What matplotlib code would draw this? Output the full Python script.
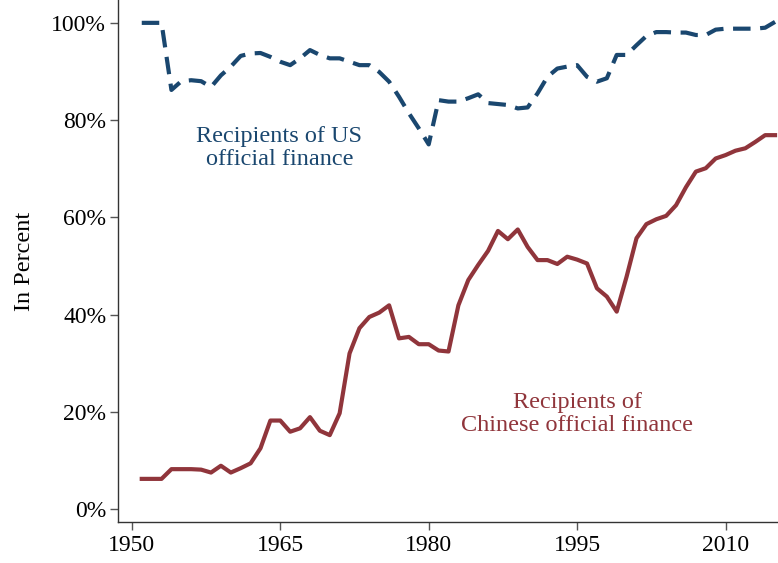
import matplotlib
matplotlib.use("Agg")
import matplotlib.pyplot as plt
from matplotlib.ticker import FuncFormatter

years = list(range(1951, 2016))
us_share = [100, 100, 100, 86.2, 88.0, 88.2, 88.0, 86.8, 89.2, 91.0,
            93.2, 93.7, 93.8, 93.0, 92.0, 91.3, 92.7, 94.4, 93.4, 92.7,
            92.7, 92.0, 91.3, 91.3, 89.9, 87.9, 84.8, 81.4, 78.3, 75.0,
            84.1, 83.8, 83.8, 84.5, 85.3, 83.5, 83.3, 83.1, 82.4, 82.6,
            85.5, 88.9, 90.6, 91.0, 91.3, 88.9, 87.9, 88.6, 93.4, 93.4,
            95.4, 97.3, 98.1, 98.1, 98.0, 98.0, 97.5, 97.5, 98.6, 98.8,
            98.8, 98.8, 98.8, 99.0, 100.2]
china_share = [6.2, 6.2, 6.2, 8.2, 8.2, 8.2, 8.1, 7.5, 8.9, 7.5,
               8.4, 9.4, 12.5, 18.2, 18.2, 15.9, 16.6, 18.9, 16.1, 15.2,
               19.7, 32.0, 37.2, 39.5, 40.4, 41.9, 35.1, 35.4, 33.9, 33.9,
               32.6, 32.4, 41.9, 47.1, 50.2, 53.1, 57.2, 55.5, 57.5, 53.9,
               51.2, 51.2, 50.4, 51.9, 51.3, 50.5, 45.4, 43.7, 40.6, 47.8,
               55.7, 58.6, 59.6, 60.3, 62.5, 66.2, 69.4, 70.1, 72.1, 72.8,
               73.7, 74.2, 75.5, 76.9, 76.9]
x_ticks = [1950, 1965, 1980, 1995, 2010]
y_ticks = [0, 20, 40, 60, 80, 100]
us_label = "Recipients of US\nofficial finance"
china_label = "Recipients of\nChinese official finance"
y_label = "In Percent"

navy = "#1a476f"
maroon = "#90353b"
plt.rcParams['font.family'] = ['Liberation Serif', 'DejaVu Serif']

fig = plt.figure(figsize=(7.78, 5.63), dpi=100)
ax = fig.add_axes([118/778, 41/563, (778-118)/778, 522/563])

ax.plot(years, us_share, color=navy, lw=3.0, linestyle=(0, (4.2, 2.3)),
        solid_joinstyle='miter', dash_capstyle='butt')
ax.plot(years, china_share, color=maroon, lw=3.0, solid_joinstyle='round')

ax.set_xlim(1948.6, 2015.3)
ax.set_ylim(-2.67, 104.7)
ax.set_xticks(x_ticks)
ax.set_yticks(y_ticks)
ax.yaxis.set_major_formatter(FuncFormatter(lambda v, p: f"{int(v)}%"))

for s in ['top', 'right']:
    ax.spines[s].set_visible(False)
for s in ['left', 'bottom']:
    ax.spines[s].set_color('#333333')
    ax.spines[s].set_linewidth(1.0)
ax.tick_params(axis='both', direction='out', length=5.5, width=1.0,
               color='#555555', labelsize=17, labelcolor='black')
ax.tick_params(axis='y', pad=3)
ax.tick_params(axis='x', pad=4)

ax.set_ylabel(y_label, fontsize=17.5, labelpad=12)

ax.text(1964.9, 74.3, us_label, color=navy, fontsize=17.5, ha='center',
        va='center', linespacing=1.1)
ax.text(1995.0, 19.6, china_label, color=maroon, fontsize=17.5, ha='center',
        va='center', linespacing=1.1)

fig.savefig("out.png", dpi=100)
